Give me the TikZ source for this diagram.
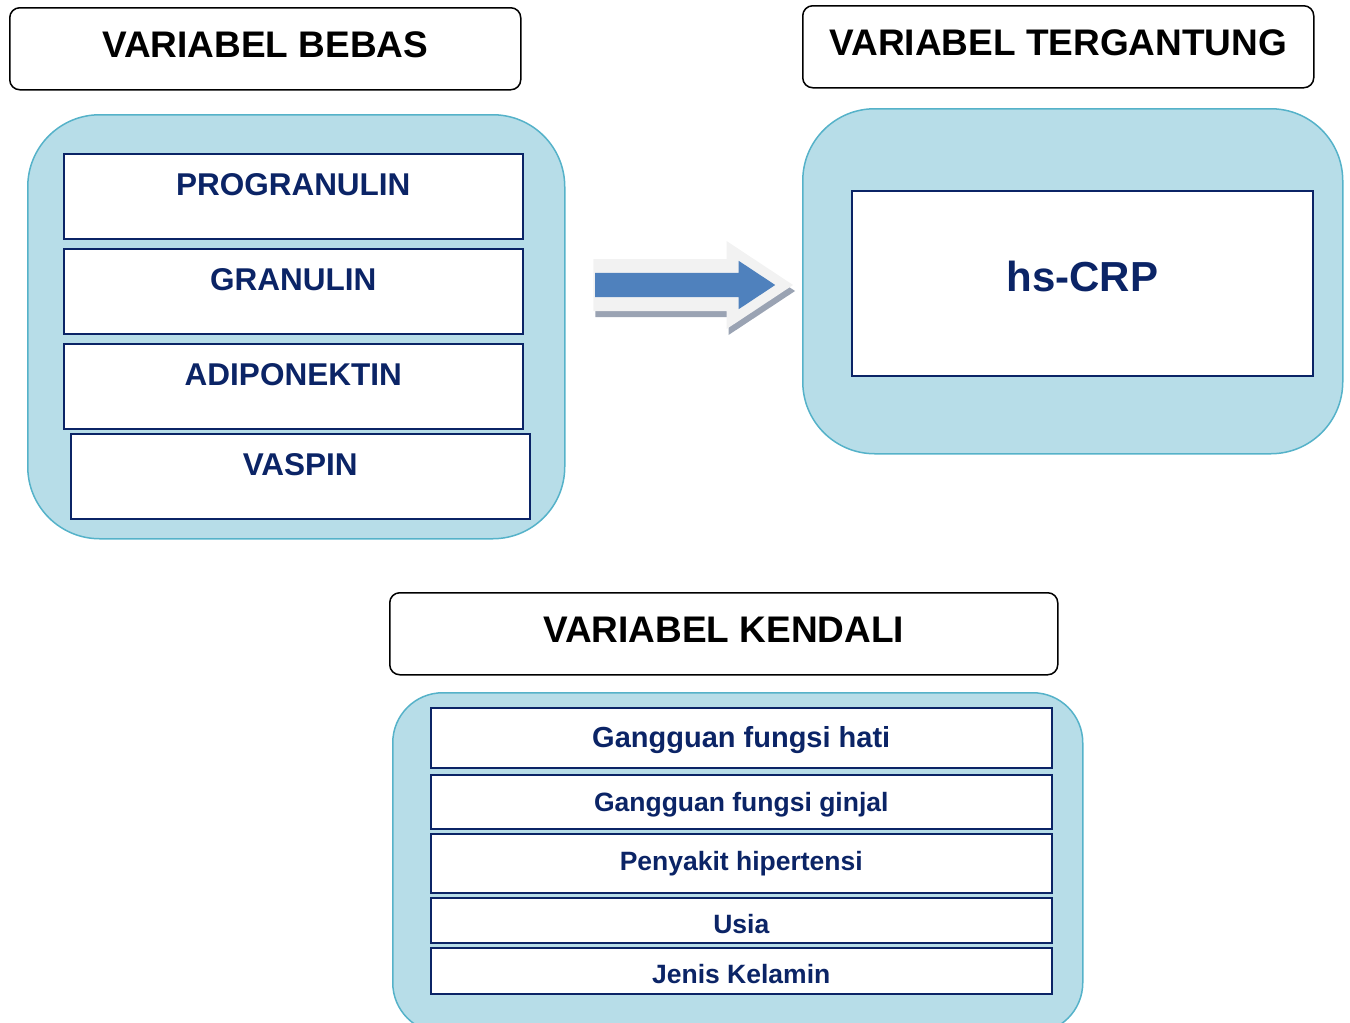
\documentclass[tikz,border=0pt]{standalone}
\usepackage{fontspec}
\setmainfont{Liberation Sans}
\usetikzlibrary{shapes.arrows}
\definecolor{panelfill}{HTML}{B7DDE8}
\definecolor{paneldraw}{HTML}{55B2C9}
\definecolor{navy}{HTML}{0B2466}
\definecolor{arrowblue}{HTML}{4F81BD}
\definecolor{arrowrim}{HTML}{F2F2F2}
\definecolor{arrowshade}{HTML}{9AA3B3}
\newcommand{\bigFont}{\fontsize{37}{40}\selectfont\bfseries}

\begin{document}
\begin{tikzpicture}[x=1pt, y=-1pt,
	head/.style={draw=black, line width=1.5pt, rounded corners=10pt, anchor=north west, inner sep=0pt, text height=27pt, text depth=10pt, font=\bigFont},
	panel/.style={draw=paneldraw, fill=panelfill, line width=1.5pt, anchor=north west, inner sep=0pt},
	varbox/.style={draw=navy, fill=white, line width=1.5pt, anchor=north west, inner sep=0pt, text=navy, minimum width=459pt, minimum height=85pt, text height=23pt, text depth=25pt, font=\fontsize{31.5}{34}\selectfont\bfseries},
	ctrlbox/.style={draw=navy, fill=white, line width=1.5pt, anchor=north west, inner sep=0pt, text=navy, minimum width=621pt, text height=19pt, text depth=0pt, font=\fontsize{26.5}{30}\selectfont\bfseries},
	arrowpart/.style={single arrow, minimum height=180pt, inner xsep=0pt, inner ysep=12pt, single arrow head extend=12pt, single arrow head indent=0pt, single arrow tip angle=67, line join=miter}]
	\useasboundingbox (0,0) rectangle (1350,1023);
	
	% variabel bebas
	\node[head, minimum width=511pt, minimum height=82pt] (bebas) at (9,7) {VARIABEL BEBAS};
	\node[panel, minimum width=537pt, minimum height=424pt, rounded corners=72pt] (bebaspanel) at (27,114) {};
	\node[varbox] (prog) at (63,153) {PROGRANULIN};
	\node[varbox] (gran) at (63,248) {GRANULIN};
	\node[varbox] (adipo) at (63,343) {ADIPONEKTIN};
	\node[varbox] (vaspin) at (70,433) {VASPIN};
	
	% variabel tergantung
	\node[head, minimum width=511pt, minimum height=82pt] (terg) at (802,5) {VARIABEL TERGANTUNG};
	\node[panel, minimum width=540pt, minimum height=345pt, rounded corners=72pt] (tergpanel) at (802,108) {};
	\node[draw=navy, fill=white, line width=1.5pt, anchor=north west, inner sep=0pt, text=navy, minimum width=461pt, minimum height=185pt, text height=31pt, text depth=15pt, font=\fontsize{42}{46}\selectfont\bfseries] (crp) at (851,190) {hs-CRP};
	
	% panah
	\node[arrowpart, draw=arrowshade, fill=arrowshade, line width=14pt] (arrshadow) at (678,291) {};
	\node[arrowpart, draw=arrowrim, fill=arrowblue, line width=14pt] (arr) at (676,285) {};
	\node[arrowpart, fill=arrowblue] (arrbody) at (676,285) {};
	
	% variabel kendali
	\node[head, minimum width=668pt, minimum height=82pt] (kendali) at (389,592) {VARIABEL KENDALI};
	\node[panel, minimum width=690pt, minimum height=340pt, rounded corners=50pt] (kendalipanel) at (392,692) {};
	\node[ctrlbox, minimum height=60pt, font=\fontsize{29}{32}\selectfont\bfseries] (hati) at (430,707) {Gangguan fungsi hati};
	\node[ctrlbox, minimum height=54pt] (ginjal) at (430,774) {Gangguan fungsi ginjal};
	\node[ctrlbox, minimum height=59pt, text height=14pt] (hiper) at (430,833) {Penyakit hipertensi};
	\node[ctrlbox, minimum height=45pt, text height=26pt] (usia) at (430,897) {Usia};
	\node[ctrlbox, minimum height=46pt, text height=25pt] (jenis) at (430,947) {Jenis Kelamin};
\end{tikzpicture}
\end{document}
